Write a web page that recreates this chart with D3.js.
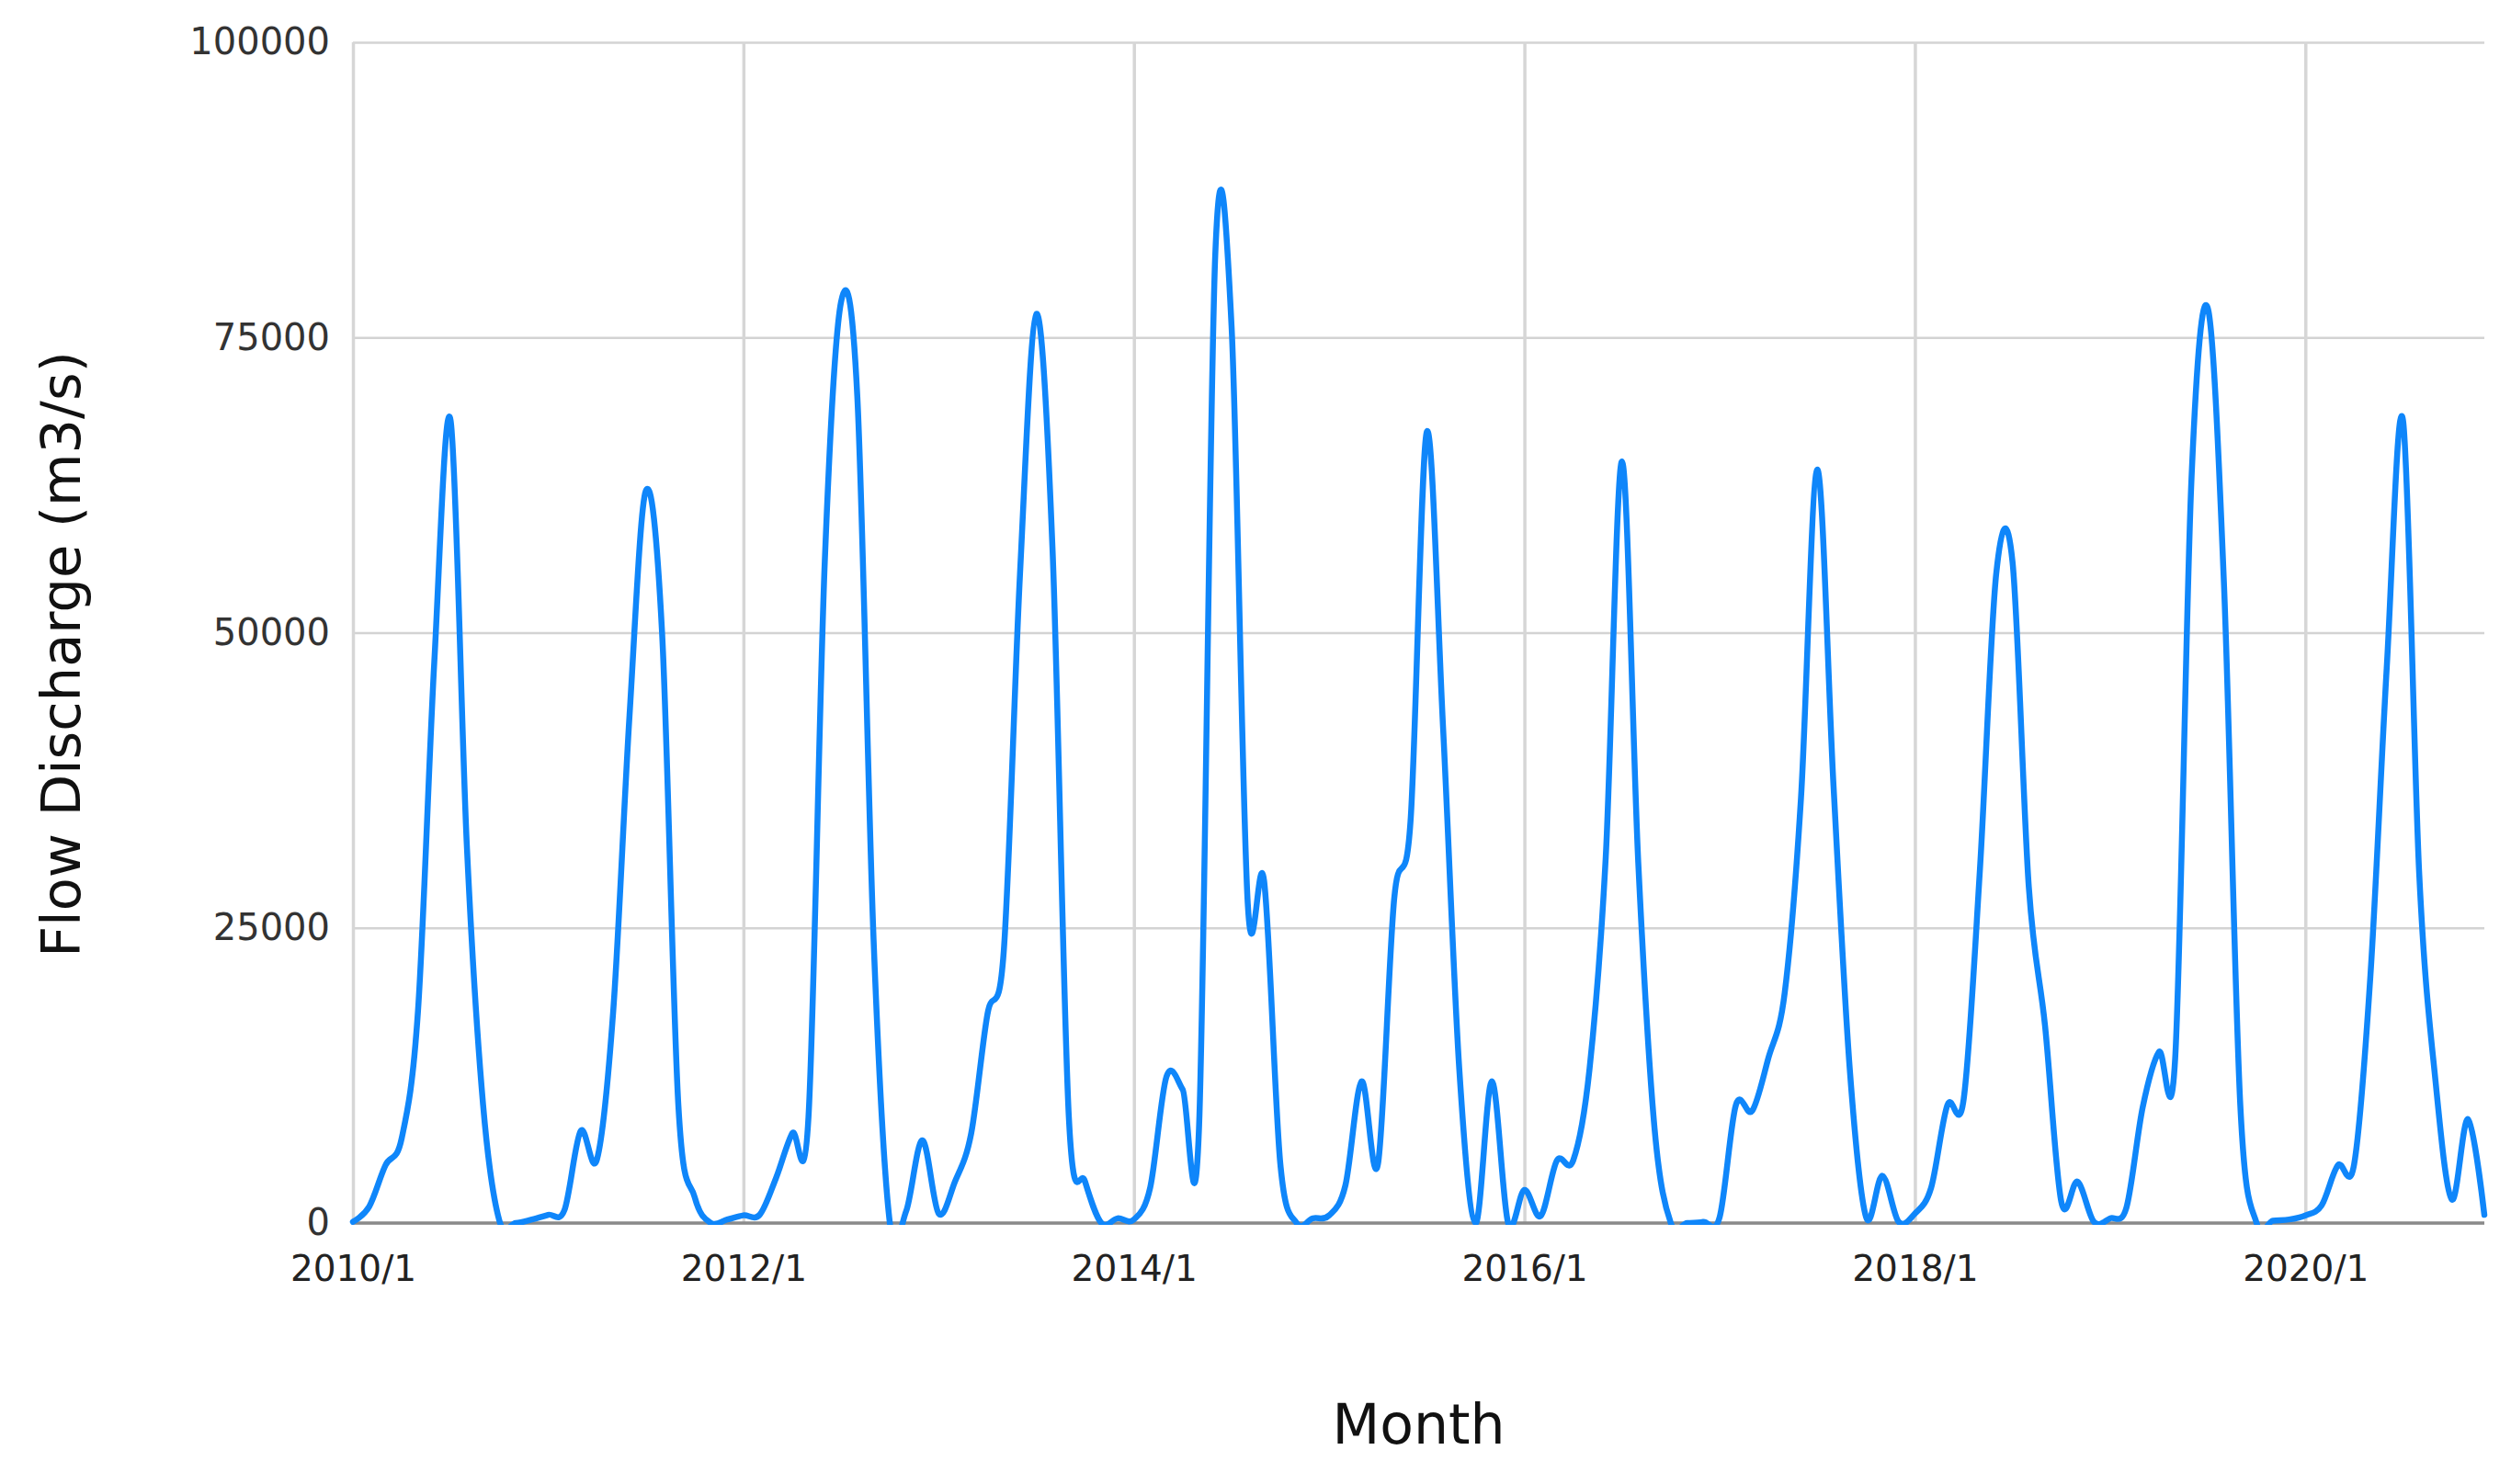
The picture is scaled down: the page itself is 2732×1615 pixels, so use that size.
<!DOCTYPE html>
<html>
<head>
<meta charset="utf-8">
<script src="https://cdn.jsdelivr.net/npm/d3@7"></script>
<style>
  body { margin: 0; background: #ffffff; }
  text { font-family: "DejaVu Sans", Verdana, sans-serif; }
</style>
</head>
<body>
<svg id="chart" width="2732" height="1615"></svg>
<script>
// ---- Data (monthly flow discharge, m3/s) ----
const years = [2010, 2011, 2012, 2013, 2014, 2015, 2016, 2017, 2018, 2019, 2020];
const flow2010 = [100, 1400, 4900, 7200, 18000, 47500, 68000, 32000, 10000, 200, 0, 300];
const flow2011 = [700, 1100, 7800, 5400, 18000, 43000, 62000, 50000, 10000, 2200, 0, 300];
const flow2012 = [650, 700, 3800, 7600, 9000, 56000, 78000, 70000, 24000, 0, 1000, 7000];
const flow2013 = [800, 3500, 7600, 17700, 23000, 55000, 77000, 57000, 9000, 3500, 0, 400];
const flow2014 = [300, 3000, 12400, 11300, 8000, 82000, 76000, 27000, 29000, 5000, 0, 400];
const flow2015 = [650, 3200, 12000, 5000, 27500, 34000, 67000, 42000, 13000, 0, 12000, 0];
const flow2016 = [2800, 600, 5300, 5300, 13000, 31000, 64500, 30500, 8000, 0, 0, 100];
const flow2017 = [500, 10000, 9500, 14000, 19500, 36000, 63800, 37000, 13000, 500, 4000, 100];
const flow2018 = [800, 3000, 10000, 10500, 30000, 55000, 56000, 28500, 16700, 1800, 3500, 100];
const flow2019 = [400, 1300, 9800, 14500, 14000, 63000, 77500, 54000, 10000, 0, 200, 300];
const flow2020 = [650, 1500, 4900, 5000, 21000, 47000, 68000, 29500, 12000, 2000, 8800, 700];
const flowByYear = [flow2010, flow2011, flow2012, flow2013, flow2014, flow2015,
                    flow2016, flow2017, flow2018, flow2019, flow2020];
const xTickLabels = ["2010/1", "2012/1", "2014/1", "2016/1", "2018/1", "2020/1"];
const yTicks = [0, 25000, 50000, 75000, 100000];
const xTitle = "Month";
const yTitle = "Flow Discharge (m3/s)";

// build month table from the arrays
const months = years.flatMap(yr => d3.range(1, 13).map(m => `${yr}/${m}`));
const data = years.flatMap((yr, yi) => flowByYear[yi].map((v, mi) => ({ month: `${yr}/${mi + 1}`, value: v })));

// ---- Layout ----
const svg = d3.select("#chart");
const plotL = 384, plotR = 2703, plotT = 46, plotB = 1331;

const x = d3.scalePoint().domain(months).range([plotL, plotR]);
const y = d3.scaleLinear().domain([0, 100000]).range([plotB, plotT]);

// horizontal gridlines + y labels
const yAxis = svg.append("g")
  .attr("transform", `translate(${plotL},0)`)
  .call(d3.axisLeft(y).tickValues(yTicks).tickSize(-(plotR - plotL)).tickPadding(25).tickFormat(d3.format("d")));
yAxis.select(".domain").remove();
yAxis.selectAll(".tick line").attr("stroke", "#d3d3d3").attr("stroke-width", 2.5);
yAxis.selectAll(".tick text")
  .attr("fill", "#333").attr("font-size", 40).attr("font-family", "DejaVu Sans, Verdana, sans-serif");

// vertical gridlines + x labels
const xAxis = svg.append("g")
  .attr("transform", `translate(0,${plotB})`)
  .call(d3.axisBottom(x).tickValues(xTickLabels).tickSize(-(plotB - plotT)).tickPadding(35));
xAxis.select(".domain").remove();
xAxis.selectAll(".tick line").attr("stroke", "#d6d6d6").attr("stroke-width", 3.5);
xAxis.selectAll(".tick text")
  .attr("fill", "#222").attr("font-size", 39).attr("font-family", "DejaVu Sans, Verdana, sans-serif");

// baseline at zero
svg.append("line")
  .attr("x1", plotL).attr("x2", plotR)
  .attr("y1", y(0)).attr("y2", y(0))
  .attr("stroke", "#8a8a8a").attr("stroke-width", 3.5);

// clip
svg.append("defs").append("clipPath").attr("id", "plotclip")
  .append("rect").attr("x", plotL - 4).attr("y", plotT - 10)
  .attr("width", plotR - plotL + 8).attr("height", plotB - plotT + 12);

// the series line
const line = d3.line()
  .x(d => x(d.month))
  .y(d => y(d.value))
  .curve(d3.curveCatmullRom.alpha(0));

svg.append("path")
  .datum(data)
  .attr("clip-path", "url(#plotclip)")
  .attr("fill", "none")
  .attr("stroke", "#0f86fa")
  .attr("stroke-width", 6.5)
  .attr("stroke-linejoin", "round")
  .attr("stroke-linecap", "round")
  .attr("d", line);

// titles
svg.append("text")
  .attr("x", (plotL + plotR) / 2).attr("y", 1550)
  .attr("text-anchor", "middle").attr("dominant-baseline", "central")
  .attr("font-size", 60).attr("fill", "#111")
  .text(xTitle);

svg.append("text")
  .attr("transform", `translate(66,712) rotate(-90)`)
  .attr("text-anchor", "middle").attr("dominant-baseline", "central")
  .attr("font-size", 59).attr("fill", "#111")
  .text(yTitle);
</script>
</body>
</html>
